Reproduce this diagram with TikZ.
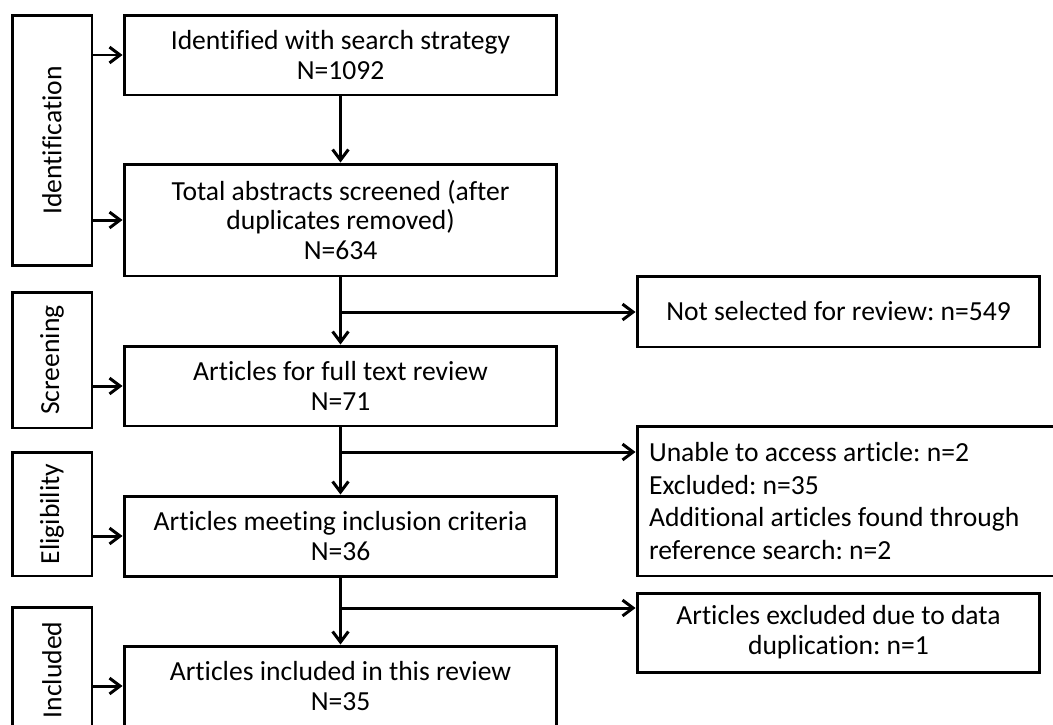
\documentclass[tikz,border=0pt]{standalone}
\usepackage{fontspec}
\setmainfont{Carlito}[Ligatures=CommonOff]
\usetikzlibrary{arrows.meta}
\begin{document}
\begin{tikzpicture}[x=0.02cm, y=-0.02cm, line width=1.7pt,
    box/.style={draw, rectangle, inner sep=0pt, align=center, font=\fontsize{15.7}{17}\selectfont\frenchspacing},
    phase/.style={draw, rectangle, inner sep=0pt, minimum width=1.6cm, font=\fontsize{15.7}{17}\selectfont},
    arr/.style={-{Straight Barb[length=6pt, width=9pt]}}]
    \clip (0,0) rectangle (1053,724);
    % phases
    \node[phase, minimum height=5.02cm] (idf) at (52,140.5) {\rotatebox{90}{Identification}};
    \node[phase, minimum height=2.72cm] (scr) at (52,360) {\rotatebox{90}{Screening}};
    \node[phase, minimum height=2.48cm] (elg) at (52,514) {\rotatebox{90}{Eligibility}};
    \node[phase, minimum height=2.52cm] (inc) at (52,670) {\rotatebox{90}{Included}};
    % main flow
    \node[box, minimum width=8.66cm, minimum height=1.6cm] (b1) at (340.5,55) {Identified with search strategy\\N=1092};
    \node[box, minimum width=8.66cm, minimum height=2.24cm] (b2) at (340.5,220) {Total abstracts screened (after\\duplicates removed)\\N=634};
    \node[box, minimum width=8.66cm, minimum height=1.6cm] (b3) at (340.5,386) {Articles for full text review\\N=71};
    \node[box, minimum width=8.66cm, minimum height=1.6cm] (b4) at (340.5,536) {Articles meeting inclusion criteria\\N=36};
    \node[box, minimum width=8.66cm, minimum height=1.6cm] (b5) at (340.5,686) {Articles included in this review\\N=35};
    % exclusions
    \node[box, minimum width=8.06cm, minimum height=1.42cm] (r1) at (838.5,311.5) {Not selected for review: n=549};
    \node[box, align=flush left, text width=8.04cm, inner xsep=0.24cm, minimum height=3cm] (r2) at (850,501) {Unable to access article: n=2\\[1.5pt]Excluded: n=35\\[1.5pt]Additional articles found through\\[1.5pt]reference search: n=2};
    \node[box, minimum width=8.06cm, minimum height=1.58cm] (r3) at (838.5,632.5) {Articles excluded due to data\\duplication: n=1};
    \coordinate (j1) at (341,312);
    \coordinate (j2) at (341,452);
    \coordinate (j3) at (341,608);
    \draw[arr] (idf.east |- b1.west) -- (b1.west);
    \draw[arr] (idf.east |- b2.west) -- (b2.west);
    \draw[arr] (scr.east |- b3.west) -- (b3.west);
    \draw[arr] (elg.east |- b4.west) -- (b4.west);
    \draw[arr] (inc.east |- b5.west) -- (b5.west);
    \draw[arr] (b1.south) -- (b2.north);
    \draw[arr] (b2.south) -- (b3.north);
    \draw[arr] (b3.south) -- (b4.north);
    \draw[arr] (b4.south) -- (b5.north);
    \draw[arr] (j1) -- (j1 -| r1.west);
    \draw[arr] (j2) -- (j2 -| r2.west);
    \draw[arr] (j3) -- (j3 -| r3.west);
\end{tikzpicture}
\end{document}
